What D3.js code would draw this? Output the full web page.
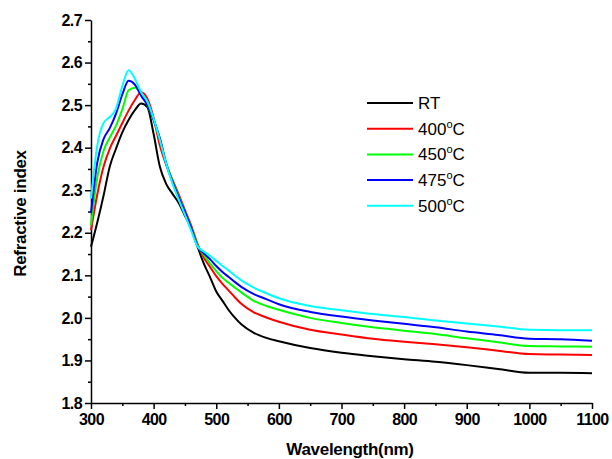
<!DOCTYPE html>
<html>
<head>
  <script src="https://d3js.org/d3.v7.min.js"></script>
  <style>
    body { margin: 0; background: white; }
    svg { font-family: "Liberation Sans", Arial, sans-serif; }
  </style>
</head>
<body>
  <div id="chart"></div>
  <script>
    // wavelength grid (nm)
    var wavelengths = [300, 310, 320, 330, 340, 350, 360, 370, 380, 390, 400, 410, 420, 430, 440, 450, 460, 470, 480, 490, 500, 510, 520, 530, 540,
                       560, 580, 600, 650, 700, 750, 800, 850, 900, 950, 1000, 1050, 1100];

    var rtValues   = [2.167, 2.224, 2.287, 2.356, 2.398, 2.436, 2.465, 2.488, 2.504, 2.495, 2.432, 2.355, 2.315, 2.292, 2.270, 2.240, 2.211, 2.168, 2.128, 2.096, 2.062, 2.040, 2.018, 2.000, 1.985,
                      1.965, 1.953, 1.945, 1.929, 1.918, 1.910, 1.903, 1.897, 1.889, 1.880, 1.871, 1.871, 1.870];
    var t400Values = [2.206, 2.290, 2.355, 2.398, 2.428, 2.458, 2.487, 2.512, 2.530, 2.515, 2.470, 2.405, 2.360, 2.325, 2.290, 2.253, 2.217, 2.174, 2.142, 2.120, 2.098, 2.080, 2.064, 2.048, 2.033,
                      2.013, 2.001, 1.991, 1.972, 1.961, 1.951, 1.944, 1.938, 1.931, 1.923, 1.915, 1.914, 1.913];
    var t450Values = [2.218, 2.330, 2.392, 2.424, 2.452, 2.490, 2.535, 2.541, 2.528, 2.500, 2.465, 2.420, 2.365, 2.322, 2.285, 2.250, 2.212, 2.170, 2.148, 2.128, 2.110, 2.094, 2.082, 2.071, 2.060,
                      2.040, 2.028, 2.019, 2.000, 1.988, 1.978, 1.970, 1.962, 1.952, 1.943, 1.934, 1.933, 1.932];
    var t475Values = [2.246, 2.365, 2.420, 2.446, 2.480, 2.525, 2.557, 2.548, 2.522, 2.500, 2.465, 2.422, 2.362, 2.320, 2.283, 2.249, 2.211, 2.168, 2.152, 2.138, 2.122, 2.108, 2.096, 2.084, 2.073,
                      2.056, 2.044, 2.032, 2.014, 2.003, 1.994, 1.986, 1.978, 1.968, 1.960, 1.951, 1.950, 1.946];
    var t500Values = [2.280, 2.405, 2.458, 2.472, 2.492, 2.545, 2.582, 2.562, 2.530, 2.508, 2.468, 2.418, 2.362, 2.316, 2.278, 2.242, 2.205, 2.168, 2.156, 2.146, 2.134, 2.122, 2.111, 2.099, 2.088,
                      2.071, 2.058, 2.046, 2.028, 2.018, 2.009, 2.002, 1.994, 1.987, 1.980, 1.972, 1.971, 1.971];

    var seriesNames  = ["RT", "400", "450", "475", "500"];
    var seriesColors = ["#000000", "#ff0000", "#00ff00", "#0000ff", "#00ffff"];
    var seriesValues = [rtValues, t400Values, t450Values, t475Values, t500Values];

    var xTicks = [300, 400, 500, 600, 700, 800, 900, 1000, 1100];
    var yTicks = [1.8, 1.9, 2.0, 2.1, 2.2, 2.3, 2.4, 2.5, 2.6, 2.7];

    var svg = d3.select("#chart")
                .append("svg")
                .attr("width", 612)
                .attr("height", 459);

    var margin = { top: 20, right: 20, bottom: 56, left: 91 };
    var width = 612 - margin.left - margin.right;
    var height = 459 - margin.top - margin.bottom;

    var xScale = d3.scaleLinear().domain([300, 1100]).range([margin.left, margin.left + width]);
    var yScale = d3.scaleLinear().domain([1.8, 2.7]).range([margin.top + height, margin.top]);

    // minor ticks
    svg.append("g")
       .attr("transform", `translate(0, ${margin.top + height})`)
       .call(d3.axisBottom(xScale).tickValues(d3.range(350, 1100, 100)).tickSize(3).tickFormat(""))
       .call(g => g.select(".domain").remove());
    svg.append("g")
       .attr("transform", `translate(${margin.left}, 0)`)
       .call(d3.axisLeft(yScale).tickValues(d3.range(1.85, 2.7, 0.1)).tickSize(3).tickFormat(""))
       .call(g => g.select(".domain").remove());

    // x-axis
    var xAxis = svg.append("g")
       .attr("class", "x-axis")
       .attr("transform", `translate(0, ${margin.top + height})`)
       .call(d3.axisBottom(xScale).tickValues(xTicks).tickSize(6).tickSizeOuter(0).tickFormat(d3.format("d")));

    // y-axis
    var yAxis = svg.append("g")
       .attr("class", "y-axis")
       .attr("transform", `translate(${margin.left}, 0)`)
       .call(d3.axisLeft(yScale).tickValues(yTicks).tickSize(6).tickSizeOuter(0).tickFormat(d3.format(".1f")));

    svg.selectAll(".domain, .tick line").attr("stroke", "black").attr("stroke-width", 1.5);
    svg.selectAll(".tick text")
       .attr("fill", "black")
       .style("font-size", "16px")
       .style("font-weight", "bold")
       .style("letter-spacing", "-0.6px");
    xAxis.selectAll(".tick text").attr("dy", "0.8em");

    svg.append("text")
       .attr("x", 350)
       .attr("y", 455)
       .style("text-anchor", "middle")
       .style("font-size", "17px")
       .style("font-weight", "bold")
       .style("letter-spacing", "-0.3px")
       .text("Wavelength(nm)");

    svg.append("text")
       .attr("transform", "rotate(-90)")
       .attr("x", -(margin.top + height / 2 + 2))
       .attr("y", 26)
       .style("text-anchor", "middle")
       .style("font-size", "17px")
       .style("font-weight", "bold")
       .style("letter-spacing", "-0.3px")
       .text("Refractive index");

    var line = d3.line()
                 .x((d, i) => xScale(wavelengths[i]))
                 .y(d => yScale(d))
                 .curve(d3.curveMonotoneX);

    seriesValues.forEach(function(vals, i) {
      svg.append("path")
         .datum(vals)
         .attr("fill", "none")
         .attr("stroke", seriesColors[i])
         .attr("stroke-width", 2)
         .attr("d", line);
    });

    // legend
    var legend = svg.append("g").attr("transform", "translate(367, 103)");
    seriesNames.forEach(function(name, i) {
      var row = legend.append("g").attr("transform", `translate(0, ${i * 25.7})`);
      row.append("line")
         .attr("x1", 0).attr("x2", 46)
         .attr("stroke", seriesColors[i])
         .attr("stroke-width", 2);
      var t = row.append("text")
         .attr("x", 51)
         .attr("y", 6)
         .style("font-size", "17px");
      if (name === "RT") {
        t.text(name);
      } else {
        t.append("tspan").text(name);
        t.append("tspan").attr("dy", -7).style("font-size", "11px").text("o");
        t.append("tspan").attr("dy", 7).text("C");
      }
    });
  </script>
</body>
</html>
